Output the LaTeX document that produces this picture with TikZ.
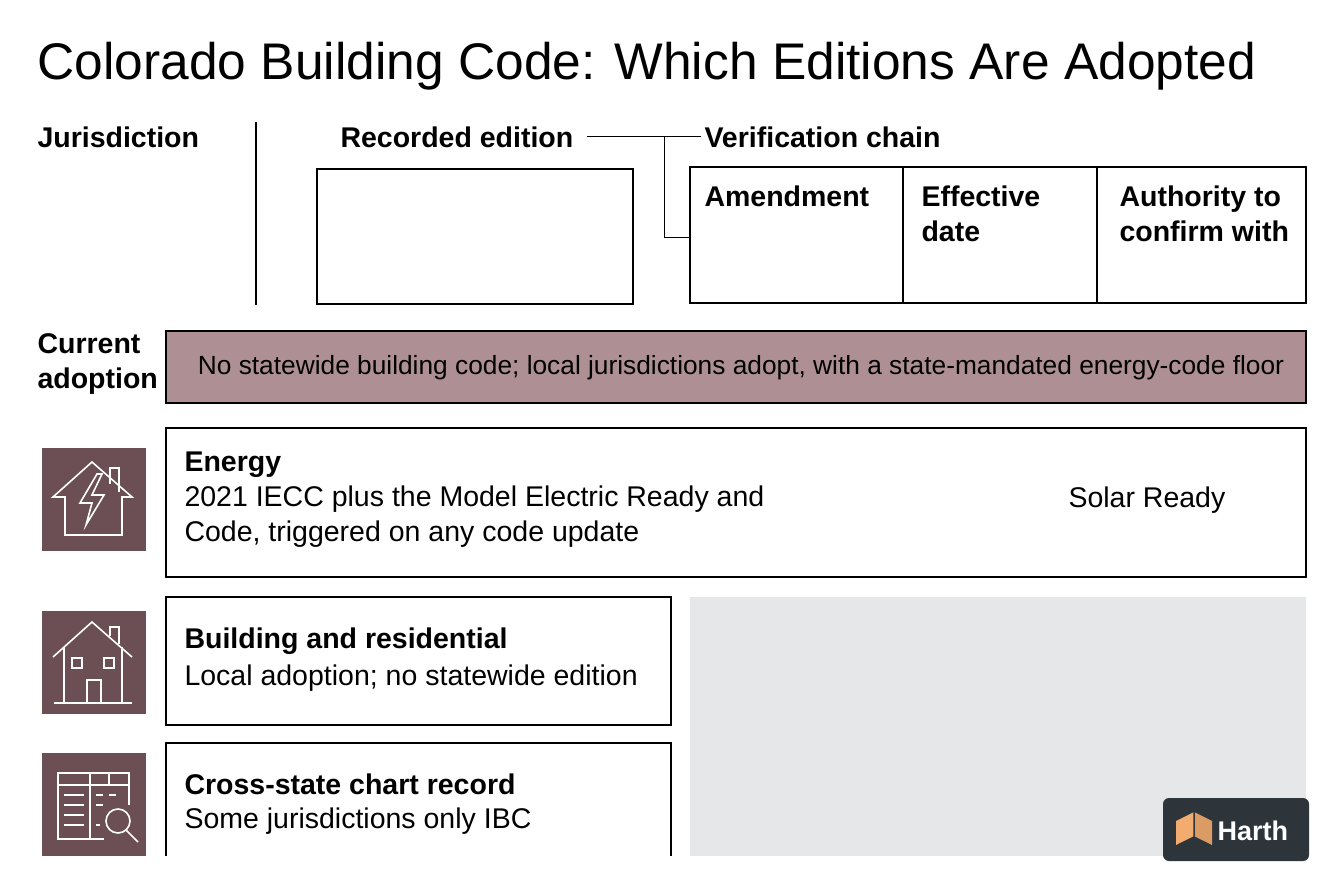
\documentclass[tikz,border=0pt]{standalone}
\usepackage{fontspec}
\setmainfont{Liberation Sans}
\usetikzlibrary{positioning}
\definecolor{mauve}{RGB}{174,144,148}
\definecolor{plum}{RGB}{107,79,84}
\definecolor{panel}{RGB}{230,231,233}
\definecolor{slate}{RGB}{45,52,58}
\definecolor{peach}{RGB}{242,172,112}
\tikzset{
  frame/.style={draw=black, line width=1.4pt},
  head/.style={anchor=west, font=\fontsize{28.5}{35}\selectfont\bfseries, align=left},
  body/.style={anchor=west, font=\fontsize{28.5}{35}\selectfont, align=left},
  tile/.style={fill=plum, draw=none},
  glyph/.style={draw=white, line width=1.6pt, line join=miter}
}
\begin{document}
\begin{tikzpicture}[x=1pt, y=-1pt]
	\useasboundingbox (0,0) rectangle (1344,896);
	\fill[white] (0,0) rectangle (1344,896);
	\node[anchor=base west, font=\fontsize{51.5}{54}\selectfont] (title) at (34,80) {Colorado Building Code: Which Editions Are Adopted};
	% header row
	\node[head] (jur) at (34,137) {Jurisdiction};
	\draw[line width=1.2pt] (256,122) -- (256,305);
	\node[head] (rec) at (337,137) {Recorded edition};
	\draw[frame] (317,169) rectangle (633,304);
	\node[head] (ver) at (701,137) {Verification chain};
	\draw[frame] (690,167) rectangle (1306,303);
	\draw[frame] (903,167) -- (903,303);
	\draw[frame] (1097,167) -- (1097,303);
	\coordinate (tab) at (690,238);
	\draw[line width=1pt] (rec.east) ++(10,0) -- (ver.west) (664,137) |- (tab);
	\node[head, anchor=north west] (amd) at (701,182) {Amendment};
	\node[head, anchor=north west] (eff) at (918,182) {Effective\\date};
	\node[head, anchor=north west] (auth) at (1116,182) {Authority to\\confirm with};
	% current adoption
	\node[head] (cur) at (34,364) {Current\\adoption};
	\draw[frame, fill=mauve] (166,331) rectangle (1306,403);
	\node[body, anchor=center, font=\fontsize{26.3}{30}\selectfont] (band) at (741,368) {No statewide building code; local jurisdictions adopt, with a state-mandated energy-code floor};
	% energy
	\draw[frame] (166,428) rectangle (1306,577);
	\fill[tile] (42,448) rectangle (146,551);
	\draw[glyph] (53,497) -- (92,462) -- (132,497) -- (122,497) -- (122,535) -- (65,535) -- (65,497) -- cycle;
	\draw[glyph] (110,484) -- (110,468) -- (119,468) -- (119,492);
	\draw[glyph] (97,474) -- (80,503) -- (92,503) -- (86,525) -- (104,495) -- (92,495) -- (102,474) -- cycle;
	\node[head] (en) at (181,465) {Energy};
	\node[body, anchor=north west] (entx) at (181,482) {2021 IECC plus the Model Electric Ready and\\Code, triggered on any code update};
	\node[body] (sol) at (1065,500) {Solar Ready};
	% building
	\draw[frame] (166,597) rectangle (671,725);
	\fill[tile] (42,611) rectangle (146,714);
	\draw[glyph] (53,657) -- (92,622) -- (132,657);
	\draw[glyph] (110,636) -- (110,627) -- (119,627) -- (119,644);
	\draw[glyph] (64,647) -- (64,703) (122,647) -- (122,703) (54,703) -- (132,703);
	\draw[glyph] (72,658) rectangle (82,668) (104,658) rectangle (114,668) (87,680) rectangle (101,703);
	\node[head] (bld) at (181,641) {Building and residential};
	\node[body] (bldtx) at (181,678) {Local adoption; no statewide edition};
	% cross-state
	\draw[frame] (166,856) -- (166,743) -- (671,743) -- (671,856);
	\fill[tile] (42,753) rectangle (146,856);
	\draw[glyph] (58,773) rectangle (129,785);
	\draw[glyph] (58,785) -- (58,839) -- (104,839) (90,773) -- (90,839) (109,773) -- (109,785) (129,785) -- (129,805);
	\foreach \yy in {795,805,815,825} \draw[glyph] (64,\yy) -- (84,\yy);
	\draw[glyph] (96,795) -- (103,795) (109,795) -- (116,795) (96,805) -- (103,805) (96,825) -- (100,825);
	\draw[glyph] (118,821) circle (12) (126,830) -- (138,842);
	\node[head] (crs) at (181,784) {Cross-state chart record};
	\node[body] (crstx) at (181,821) {Some jurisdictions only IBC};
	% grey panel and badge
	\fill[panel] (690,597) rectangle (1306,856);
	\fill[slate, rounded corners=6pt] (1163,798) rectangle (1309,861);
	\fill[peach] (1194,812) -- (1176,821) -- (1176,845) -- (1194,837) -- cycle;
	\fill[peach!90!black] (1194,812) -- (1212,821) -- (1212,845) -- (1194,837) -- cycle;
	\draw[slate, line width=1.5pt] (1194,812) -- (1194,837) -- (1178,845) (1194,837) -- (1210,845);
	\node[anchor=west, text=white, font=\fontsize{27}{28}\selectfont\bfseries] (logo) at (1214,831) {Harth};
\end{tikzpicture}
\end{document}
